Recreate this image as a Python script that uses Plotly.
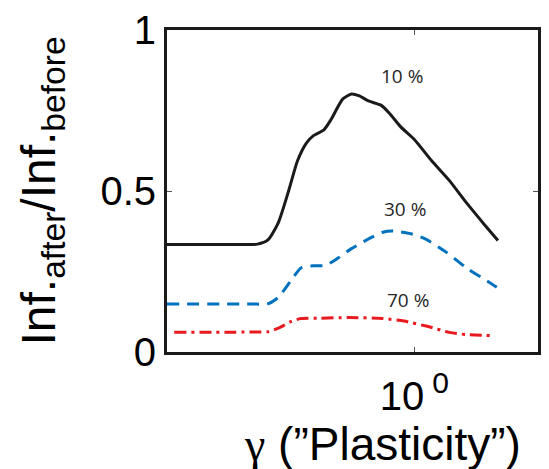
import math
import plotly.graph_objects as go

# gamma values (x, log axis) and ratio values (y)
gamma_10 = [0.1, 0.2, 0.232, 0.256, 0.282, 0.311, 0.337, 0.366, 0.391, 0.431, 0.459, 0.514, 0.557,
            0.596, 0.656, 0.735, 0.796, 0.879, 1.0, 1.175, 1.384, 1.626, 1.914, 2.178]
ratio_10 = [0.334, 0.334, 0.335, 0.348, 0.402, 0.503, 0.594, 0.649, 0.672, 0.690, 0.720, 0.786, 0.801,
            0.796, 0.779, 0.766, 0.740, 0.700, 0.660, 0.594, 0.533, 0.463, 0.397, 0.346]

gamma_30 = [0.1, 0.22, 0.256, 0.282, 0.316, 0.348, 0.391, 0.438, 0.490, 0.557, 0.656, 0.746, 0.809,
            0.968, 1.102, 1.340, 1.626, 1.977, 2.218]
ratio_30 = [0.149, 0.149, 0.150, 0.170, 0.220, 0.261, 0.268, 0.269, 0.291, 0.321, 0.352, 0.372, 0.376,
            0.367, 0.352, 0.311, 0.261, 0.220, 0.195]

gamma_70 = [0.107, 0.22, 0.256, 0.282, 0.316, 0.348, 0.417, 0.540, 0.746, 0.908, 1.138, 1.384, 1.626, 2.042]
ratio_70 = [0.061, 0.062, 0.063, 0.074, 0.094, 0.104, 0.105, 0.107, 0.104, 0.096, 0.079, 0.061, 0.054, 0.051]

series_labels = ["10 %", "30 %", "70 %"]
label_gamma = [0.893, 0.916, 0.944]
label_ratio = [0.858, 0.445, 0.163]

y_tickvals = [0, 0.5, 1]
y_ticktext = ["0", "0.5", "1"]
x_tickvals = [1]
x_ticktext = ["10<sup> <span style='font-size:30px'>0</span></sup>"]
x_title = "<span style='font-family:Liberation Serif'>γ</span> (”Plasticity”)"
y_title = "Inf.<sub>after</sub>/Inf.<sub>before</sub>"

fig = go.Figure()
fig.add_trace(go.Scatter(x=gamma_10, y=ratio_10, mode="lines",
                         line=dict(color="#1a1a1a", width=3, shape="spline", smoothing=0.6),
                         showlegend=False))
fig.add_trace(go.Scatter(x=gamma_30, y=ratio_30, mode="lines",
                         line=dict(color="#0072BD", width=3, dash="12px,8px", shape="spline", smoothing=0.6),
                         showlegend=False))
fig.add_trace(go.Scatter(x=gamma_70, y=ratio_70, mode="lines",
                         line=dict(color="#E8191F", width=3, dash="12px,5px,3px,5px", shape="spline", smoothing=0.6),
                         showlegend=False))

for t, gx, ry in zip(series_labels, label_gamma, label_ratio):
    fig.add_annotation(x=math.log10(gx), y=ry, text=t, showarrow=False,
                       font=dict(family="Open Sans", size=19, color="#262626"))

# x-axis title (offset to the right as in the reference)
fig.add_annotation(xref="paper", yref="paper", x=0.58, y=-0.285, xanchor="center", yanchor="middle",
                   text=x_title, showarrow=False,
                   font=dict(family="Liberation Sans, Arial", size=46, color="black"))

axis_font = dict(family="Liberation Sans, Arial", size=40, color="black")
fig.update_xaxes(type="log", range=[-1, 0.5], tickvals=x_tickvals, ticktext=x_ticktext,
                 showline=True, mirror="ticks", linecolor="#1a1a1a", linewidth=3,
                 ticks="inside", ticklen=5, tickwidth=1, tickcolor="#555",
                 showgrid=False, zeroline=False, tickfont=axis_font, ticklabelstandoff=7)
fig.update_yaxes(range=[0, 1], tickvals=y_tickvals, ticktext=y_ticktext,
                 showline=True, mirror="ticks", linecolor="#1a1a1a", linewidth=3,
                 ticks="inside", ticklen=5, tickwidth=1, tickcolor="#555",
                 showgrid=False, zeroline=False, tickfont=axis_font,
                 title=dict(text=y_title,
                            font=dict(family="Liberation Sans, Arial", size=48, color="black"),
                            standoff=30))
fig.update_layout(width=549, height=469, margin=dict(l=167, r=8, t=22, b=117),
                  plot_bgcolor="white", paper_bgcolor="white")
fig.write_html("out.html")
